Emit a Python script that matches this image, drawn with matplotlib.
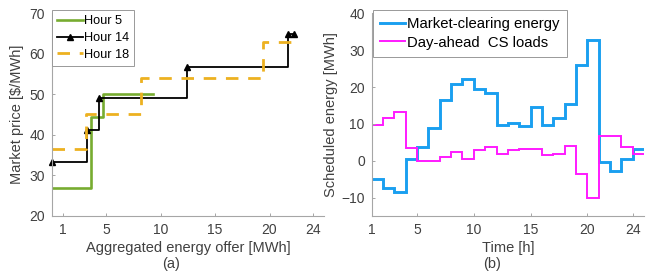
import matplotlib
matplotlib.use("Agg")
import matplotlib.pyplot as plt
import numpy as np

plt.rcParams['font.family'] = ['Liberation Sans', 'DejaVu Sans']

# ---- data (a) ----
h5_x = [0, 3.65, 4.7, 9.3]
h5_y = [26.8, 44.3, 50.0, 50.0]
h14_x = [0, 3.2, 4.33, 12.44, 21.7, 22.2]
h14_y = [33.2, 41.2, 49.2, 56.8, 65.0, 65.0]
h18_x = [0, 3.15, 8.2, 19.4, 22.1]
h18_y = [36.5, 45.2, 54.0, 62.8, 62.8]
xticks_a = [1, 5, 10, 15, 20, 24]
yticks_a = [20, 30, 40, 50, 60, 70]

# ---- data (b) ----
hours = np.arange(1, 26)
market = [-5.0, -7.5, -8.6, 0.6, 3.7, 8.8, 16.5, 20.8, 22.3, 19.4, 18.3, 9.6,
          10.1, 9.3, 14.7, 9.8, 11.6, 15.5, 26.0, 32.7, -0.4, -2.8, 0.6, 3.1]
cs_loads = [9.7, 11.7, 13.1, 3.4, -0.1, -0.1, 0.9, 2.3, 0.6, 3.0, 3.8, 1.7,
            3.0, 3.3, 3.2, 1.5, 1.9, 4.1, -3.6, -10.1, 6.8, 6.6, 3.8, 1.9]
xticks_b = [1, 5, 10, 15, 20, 24]
yticks_b = [-10, 0, 10, 20, 30, 40]

W, H = 651, 279
fig = plt.figure(figsize=(W / 100, H / 100), dpi=100)

spine_c = '#a6a6a6'
text_c = '#404040'

def style(ax):
    for s in ['top', 'right']:
        ax.spines[s].set_visible(False)
    for s in ['left', 'bottom']:
        ax.spines[s].set_color(spine_c)
        ax.spines[s].set_linewidth(0.8)
    ax.tick_params(direction='in', length=2.5, width=0.7, color=spine_c,
                   labelcolor=text_c, labelsize=10, pad=5)

def fx(px):
    return px / W

def fy(py):
    return 1 - py / H

# Left axes
axa = fig.add_axes([fx(51.7), fy(216), fx(324) - fx(51.7), fy(13.3) - fy(216)])
style(axa)
axa.plot(h5_x, h5_y, drawstyle='steps-post', color='#77AC30', lw=1.9, label='Hour 5')
axa.plot(h14_x, h14_y, drawstyle='steps-post', color='black', lw=1.3, marker='^',
         markersize=5, label='Hour 14', clip_on=False)
axa.plot(h18_x, h18_y, drawstyle='steps-post', color='#EDB120', lw=2.0,
         dashes=(4.5, 3.5), label='Hour 18')
axa.set_xlim(0, 25)
axa.set_ylim(20, 70)
axa.set_xticks(xticks_a)
axa.set_yticks(yticks_a)
axa.set_xlabel('Aggregated energy offer [MWh]', fontsize=10.5, color=text_c, labelpad=3)
axa.set_ylabel('Market price [$/MWh]', fontsize=10.5, color=text_c, labelpad=4)
leg = axa.legend(loc='upper left', bbox_to_anchor=(fx(51.7), fy(10)),
                 bbox_transform=fig.transFigure, fontsize=9.2, frameon=True,
                 fancybox=False, framealpha=1, edgecolor='#999999',
                 handlelength=2.0, handletextpad=0.1, labelspacing=0.37,
                 borderpad=0.42, borderaxespad=0)
leg.get_frame().set_linewidth(0.7)

# Right axes
axb = fig.add_axes([fx(371.7), fy(216), fx(644) - fx(371.7), fy(13.3) - fy(216)])
style(axb)
axb.stairs(market, hours, baseline=None, color='#1a9ff0', lw=2.1,
           label='Market-clearing energy')
axb.stairs(cs_loads, hours, baseline=None, color='#ff1aff', lw=1.4,
           label='Day-ahead  CS loads')
axb.set_xlim(1, 25)
axb.set_ylim(-15, 40)
axb.set_xticks(xticks_b)
axb.set_yticks(yticks_b)
axb.set_xlabel('Time [h]', fontsize=10.5, color=text_c, labelpad=3)
axb.set_ylabel('Scheduled energy [MWh]', fontsize=10.5, color=text_c, labelpad=2)
legb = axb.legend(loc='upper left', bbox_to_anchor=(fx(372.7), fy(10)),
                  bbox_transform=fig.transFigure, fontsize=10.7, frameon=True,
                  fancybox=False, framealpha=1, edgecolor='#999999',
                  handlelength=1.7, handletextpad=0.1, labelspacing=0.28,
                  borderpad=0.5, borderaxespad=0)
legb.get_frame().set_linewidth(0.7)

fig.text(fx(171), fy(264), '(a)', fontsize=10.5, color=text_c, ha='center', va='center')
fig.text(fx(492), fy(264), '(b)', fontsize=10.5, color=text_c, ha='center', va='center')

fig.savefig('out.png', dpi=100)
